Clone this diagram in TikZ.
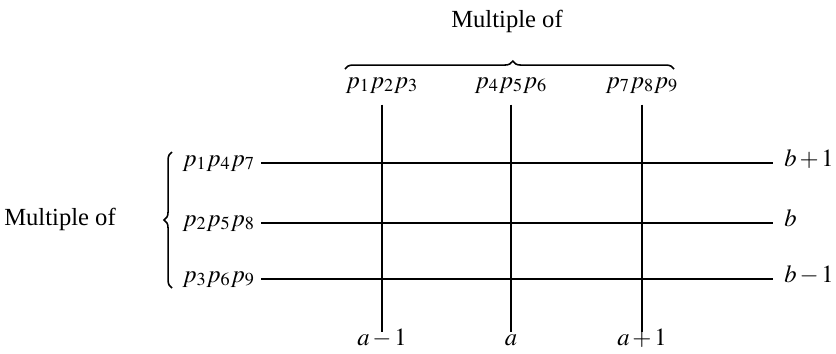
\documentclass[tikz,border=0pt]{standalone}
\usepackage{mathptmx}
\usepackage{fontspec}
\setmainfont{Liberation Serif}
\usetikzlibrary{decorations.pathreplacing}
\tikzset{lab/.style={inner sep=2pt,font=\fontsize{14}{16}\selectfont}}
\newcommand{\gapop}[1]{\mskip2mu{#1}\mskip2mu}
\begin{document}
\begin{tikzpicture}[x=0.02cm,y=-0.02cm,line width=1.1pt]
  \useasboundingbox (0,0) rectangle (836,353);
  \node[lab,anchor=base] (colhead) at (507,27) {Multiple of};
  \node[lab,anchor=base] (rowhead) at (60,225) {Multiple of};
  \draw[line width=0.9pt,decorate,decoration={brace,amplitude=4.5pt,aspect=0.51}] (345,69) -- (674,69);
  \draw[line width=0.9pt,decorate,decoration={brace,amplitude=4.5pt}] (172,288) -- (172,152);
  \foreach \n/\x/\top/\bot in {1/382/{$p_1p_2p_3$}/{$a\gapop{-}1$},2/511/{$p_4p_5p_6$}/{$a$},3/642/{$p_7p_8p_9$}/{$a\gapop{+}1$}}{
    \node[lab,anchor=base] (c\n) at (\x,88) {\top};
    \node[lab,anchor=base,text height=1ex] (a\n) at (\x,345) {\bot};
    \draw[shorten <=4pt] (c\n.south) -- (c\n.south |- a\n.north);
  }
  \foreach \n/\y/\lft/\rgt in {1/166/{$p_1p_4p_7$}/{$b\gapop{+}1$},2/226/{$p_2p_5p_8$}/{$b$},3/282/{$p_3p_6p_9$}/{$b\gapop{-}1$}}{
    \node[lab,anchor=base west] (r\n) at (178,\y) {\lft};
    \node[lab,anchor=base west] (s\n) at (780,\y) {\rgt};
    \draw[shorten <=1pt,shorten >=4pt] (r\n.east) -- (r\n.east -| s\n.west);
  }
\end{tikzpicture}
\end{document}
